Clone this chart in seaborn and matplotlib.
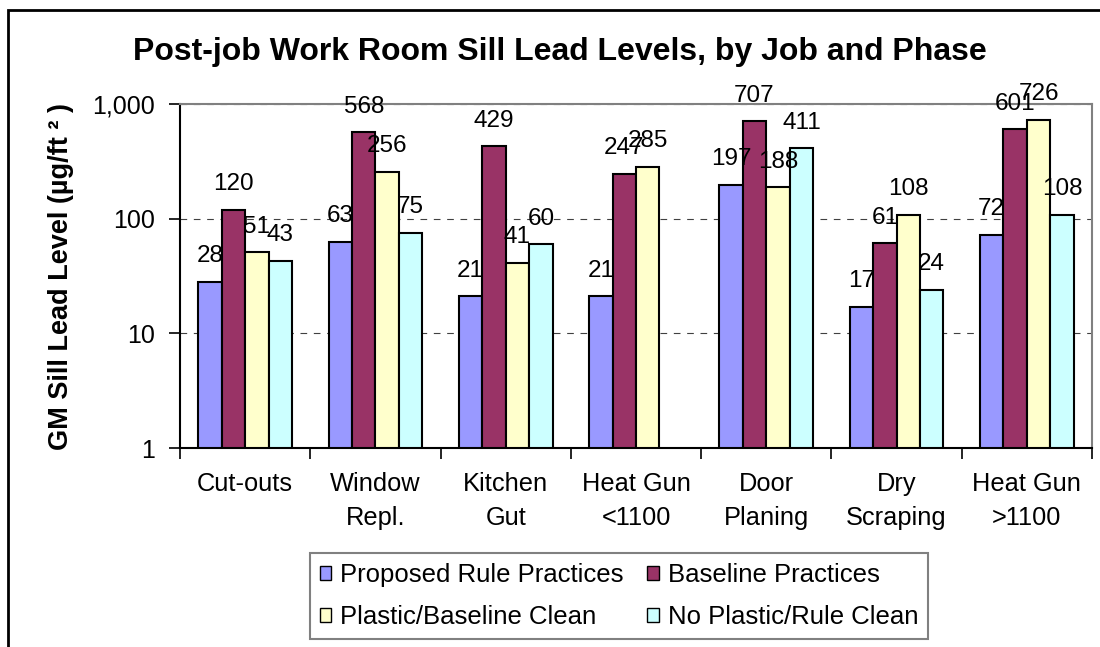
import numpy as np
import pandas as pd
import matplotlib
matplotlib.use('Agg')
import matplotlib.pyplot as plt
import seaborn as sns
from matplotlib.patches import Patch, Rectangle
from matplotlib.ticker import FixedLocator, FuncFormatter, NullLocator

# data
jobs = ['Cut-outs', 'Window\nRepl.', 'Kitchen\nGut', 'Heat Gun\n<1100',
        'Door\nPlaning', 'Dry\nScraping', 'Heat Gun\n>1100']
phases = ['Proposed Rule Practices', 'Baseline Practices',
          'Plastic/Baseline Clean', 'No Plastic/Rule Clean']
proposed = [28, 63, 21, 21, 197, 17, 72]
baseline = [120, 568, 429, 247, 707, 61, 601]
plastic = [51, 256, 41, 285, 188, 108, 726]
no_plastic = [43, 75, 60, np.nan, 411, 24, 108]
colors = ['#9999FF', '#993366', '#FFFFCC', '#CCFFFF']

rows = []
for phase, vals in zip(phases, [proposed, baseline, plastic, no_plastic]):
    for job, v in zip(jobs, vals):
        rows.append({'Job': job, 'Phase': phase, 'Level': v})
df = pd.DataFrame(rows).dropna()

plt.rcParams['font.family'] = ['Liberation Sans', 'DejaVu Sans']

fig = plt.figure(figsize=(11, 6.47), dpi=100)
ax = fig.add_axes([180/1100, 1-448/647, (1092-180)/1100, (448-104)/647])

sns.barplot(data=df, x='Job', y='Level', hue='Phase', order=jobs, hue_order=phases,
            palette=colors, saturation=1, width=0.72, edgecolor='black',
            linewidth=1.5, errorbar=None, ax=ax)

ax.set_yscale('log')
ax.set_ylim(1, 1000)
ax.set_xlim(-0.5, len(jobs)-0.5)
ax.yaxis.set_major_locator(FixedLocator([1, 10, 100, 1000]))
ax.yaxis.set_major_formatter(FuncFormatter(lambda v, p: '{:,.0f}'.format(v)))
ax.yaxis.set_minor_locator(NullLocator())

for c in ax.containers:
    ax.bar_label(c, fmt='{:.0f}', padding=10.5, fontsize=17.5)

ax.set_axisbelow(True)
ax.yaxis.grid(True, linestyle=(0, (6, 6)), color='#404040', linewidth=0.8)
ax.xaxis.grid(False)

ax.set_xticks(np.arange(-0.5, len(jobs), 1), minor=True)
ax.tick_params(axis='x', which='major', length=0, pad=17, labelsize=18.3)
ax.tick_params(axis='x', which='minor', length=8, width=1.2, direction='out')
ax.tick_params(axis='y', which='major', length=8, width=1.2, pad=10, labelsize=18)
for lbl in ax.get_xticklabels():
    lbl.set_linespacing(1.55)

for s in ['top', 'right']:
    ax.spines[s].set_color('#808080')
    ax.spines[s].set_linewidth(1.5)
for s in ['left', 'bottom']:
    ax.spines[s].set_color('black')
    ax.spines[s].set_linewidth(1.5)

ax.set_xlabel('')
ax.set_ylabel('GM Sill Lead Level (µg/ft ² )', fontsize=19.5, fontweight='bold')
ax.yaxis.label.set_va('center')
ax.yaxis.set_label_coords((61-180)/912, 0.5)

fig.suptitle('Post-job Work Room Sill Lead Levels, by Job and Phase',
             x=560/1100, y=1-52/647, va='center', fontsize=23, fontweight='bold')

ax.get_legend().remove()
handles = [Patch(facecolor=c, edgecolor='black', linewidth=1) for c in colors]
order = [0, 2, 1, 3]
leg = fig.legend([handles[i] for i in order], [phases[i] for i in order],
                 loc='upper left', bbox_to_anchor=(310/1100, 1-553/647),
                 borderaxespad=0, ncol=2, fontsize=18.5, frameon=True, fancybox=False,
                 edgecolor='#808080', framealpha=1, handlelength=0.45, handleheight=0.45,
                 handletextpad=0.35, columnspacing=0.9, labelspacing=0.72, borderpad=0.38)
leg.get_frame().set_linewidth(1.5)

fig.add_artist(Rectangle((8/1100, -0.1), 1.2, 1.1 - 10/647, transform=fig.transFigure,
                         fill=False, edgecolor='black', linewidth=2))

fig.savefig('out.png', dpi=100)
